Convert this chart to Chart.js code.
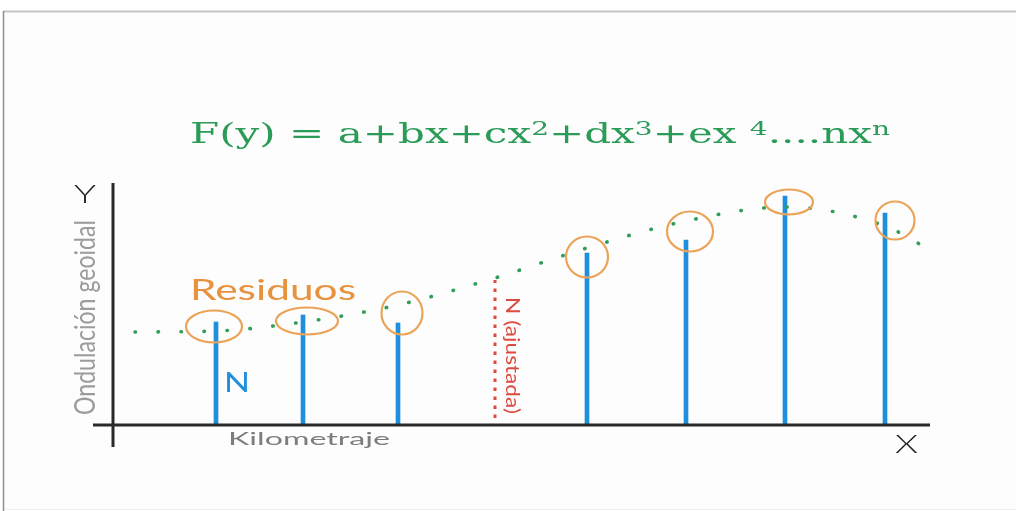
<!DOCTYPE html>
<html><head><meta charset="utf-8">
<style>html,body{margin:0;padding:0;background:#fff;}#wrap{width:1016px;height:511px;position:relative;overflow:hidden}</style>
<script src="https://cdn.jsdelivr.net/npm/chart.js@4.4.1/dist/chart.umd.min.js"></script>
</head><body><div id="wrap"><canvas id="c" width="1016" height="511"></canvas></div>
<script>
// ---- data (km along the line, geoid undulation N) ----
const stationKm  = [1.01, 1.88, 2.83, 4.72, 5.71, 6.70, 7.70];
const observedN  = [1.03, 1.10, 1.02, 1.72, 1.85, 2.29, 2.12];
const curveKm    = [0.20, 1.01, 1.88, 2.83, 3.80, 4.72, 5.71, 6.70, 7.70, 8.20];
const curveN     = [0.93, 0.94, 1.03, 1.20, 1.47, 1.77, 2.04, 2.18, 1.99, 1.72];
const adjustedKm = [3.80, 3.80];
const adjustedN  = [0.07, 1.45];
const xAxisKm    = [-0.22, 8.15];
const yAxisN     = [-0.22, 2.42];
const formulaParts = [["F(y) = a+bx+cx",0],["2",1],["+dx",0],["3",1],["+ex ",0],["4",1],["....nx",0],["n",1]];

// ---- styles ----
const ringStyle = [
  {dx:-2,dy:0,rx:28,ry:16},{dx:4,dy:2.5,rx:31,ry:13.5},{dx:4,dy:-1,rx:20.5,ry:21.5},
  {dx:0,dy:6.5,rx:21,ry:20.5},{dx:4,dy:1,rx:23,ry:20},{dx:4,dy:0.5,rx:24,ry:12.5},{dx:10,dy:1,rx:19.5,ry:19}
];
const curveAt = km => { const i = curveKm.indexOf(km); return i>=0 ? curveN[i] : null; };

function drawText(ctx, s, x, y, font, color, width, rot){
  ctx.save();
  ctx.font = font; ctx.fillStyle = color; ctx.textBaseline = 'alphabetic'; ctx.textAlign='left';
  const w = ctx.measureText(s).width;
  const sx = width ? width / w : 1;
  ctx.translate(x, y);
  if (rot) ctx.rotate(rot);
  ctx.scale(sx, 1);
  ctx.fillText(s, 0, 0);
  ctx.restore();
}

const decor = {
  id:'decor',
  beforeDraw(chart){
    const ctx = chart.ctx;
    ctx.save();
    ctx.fillStyle='#ffffff'; ctx.fillRect(0,0,1016,511);
    ctx.fillStyle='#fdfdfd'; ctx.fillRect(4,12,1012,497);
    ctx.strokeStyle='#c8c4c9'; ctx.lineWidth=2;
    ctx.beginPath(); ctx.moveTo(3,11.5); ctx.lineTo(1016,11.5); ctx.stroke();
    ctx.strokeStyle='#8e8e8e'; ctx.lineWidth=1.5;
    ctx.beginPath(); ctx.moveTo(3.5,11); ctx.lineTo(3.5,511); ctx.stroke();
    ctx.strokeStyle='#ececec'; ctx.lineWidth=1;
    ctx.beginPath(); ctx.moveTo(4,509.5); ctx.lineTo(1016,509.5); ctx.stroke();
    ctx.restore();
  },
  afterDatasetsDraw(chart){
    const ctx = chart.ctx, xs = chart.scales.x, ys = chart.scales.y;
    // residual rings
    ctx.save();
    ctx.strokeStyle='#eba358'; ctx.lineWidth=2.2;
    stationKm.forEach((km,i)=>{
      const c = curveAt(km);
      const mid = (observedN[i] + c)/2;
      const st = ringStyle[i];
      ctx.beginPath();
      ctx.ellipse(xs.getPixelForValue(km)+st.dx, ys.getPixelForValue(mid)+st.dy, st.rx, st.ry, 0, 0, Math.PI*2);
      ctx.stroke();
    });
    ctx.restore();
    // formula
    ctx.save();
    const base = "27px 'DejaVu Serif'", sup = "18px 'DejaVu Serif'";
    let total = 0;
    formulaParts.forEach(([t,s])=>{ ctx.font = s?sup:base; total += ctx.measureText(t).width; });
    const sx = 700/total;
    ctx.translate(190,143); ctx.scale(sx,1);
    ctx.fillStyle='#2b9b58';
    let cx = 0;
    formulaParts.forEach(([t,s])=>{ ctx.font = s?sup:base; ctx.fillText(t,cx,s?-8:0); cx += ctx.measureText(t).width; });
    ctx.restore();
    // labels
    drawText(ctx,'Y',74,203,"300 25px Lato",'#222',22);
    drawText(ctx,'X',895,453,"300 25px Lato",'#222',23);
    drawText(ctx,'Residuos',190,300,"28px Lato",'#e8923e',166);
    drawText(ctx,'N',224,392,"26px Lato",'#1d8fdc',26);
    drawText(ctx,'Kilometraje',228,445,"17px Lato",'#7d7d7d',162);
    drawText(ctx,'Ondulación geoidal',95,415,"28px Lato",'#9c9c9c',195,-Math.PI/2);
    drawText(ctx,'N (ajustada)',506,297,"20px Lato",'#dd4a40',117,Math.PI/2);
  }
};

new Chart(document.getElementById('c'), {
  data:{ datasets:[
    { type:'line', order:1, data:[{x:xAxisKm[0],y:0},{x:xAxisKm[1],y:0}], borderColor:'#2a2a2a', borderWidth:3, pointRadius:0, clip:false },
    { type:'line', order:1, data:[{x:-0.02,y:yAxisN[0]},{x:-0.02,y:yAxisN[1]}], borderColor:'#2a2a2a', borderWidth:3, pointRadius:0, clip:false },
    { type:'bar', order:3, data: stationKm.map((x,i)=>({x, y:observedN[i]})), backgroundColor:'#1d8fdc', barThickness:4 },
    { type:'line', order:2, data: curveKm.map((x,i)=>({x, y:curveN[i]})), borderColor:'#2f9e58', borderWidth:3.6,
      borderDash:[0.5,22.5], borderCapStyle:'round', cubicInterpolationMode:'monotone', pointRadius:0, clip:false },
    { type:'line', order:2, data: adjustedKm.map((x,i)=>({x, y:adjustedN[i]})), borderColor:'#dc4a40', borderWidth:3,
      borderDash:[3.5,5.5], pointRadius:0, clip:false }
  ]},
  options:{
    responsive:false, animation:false, events:[],
    layout:{ padding:{ left:85, right:71, top:165, bottom:56 } },
    scales:{
      x:{ type:'linear', min:-0.3, max:8.3, offset:false, display:false },
      y:{ type:'linear', min:-0.3, max:2.6, display:false }
    },
    plugins:{ legend:{display:false}, tooltip:{enabled:false}, title:{display:false} }
  },
  plugins:[decor]
});
</script>
</body></html>
